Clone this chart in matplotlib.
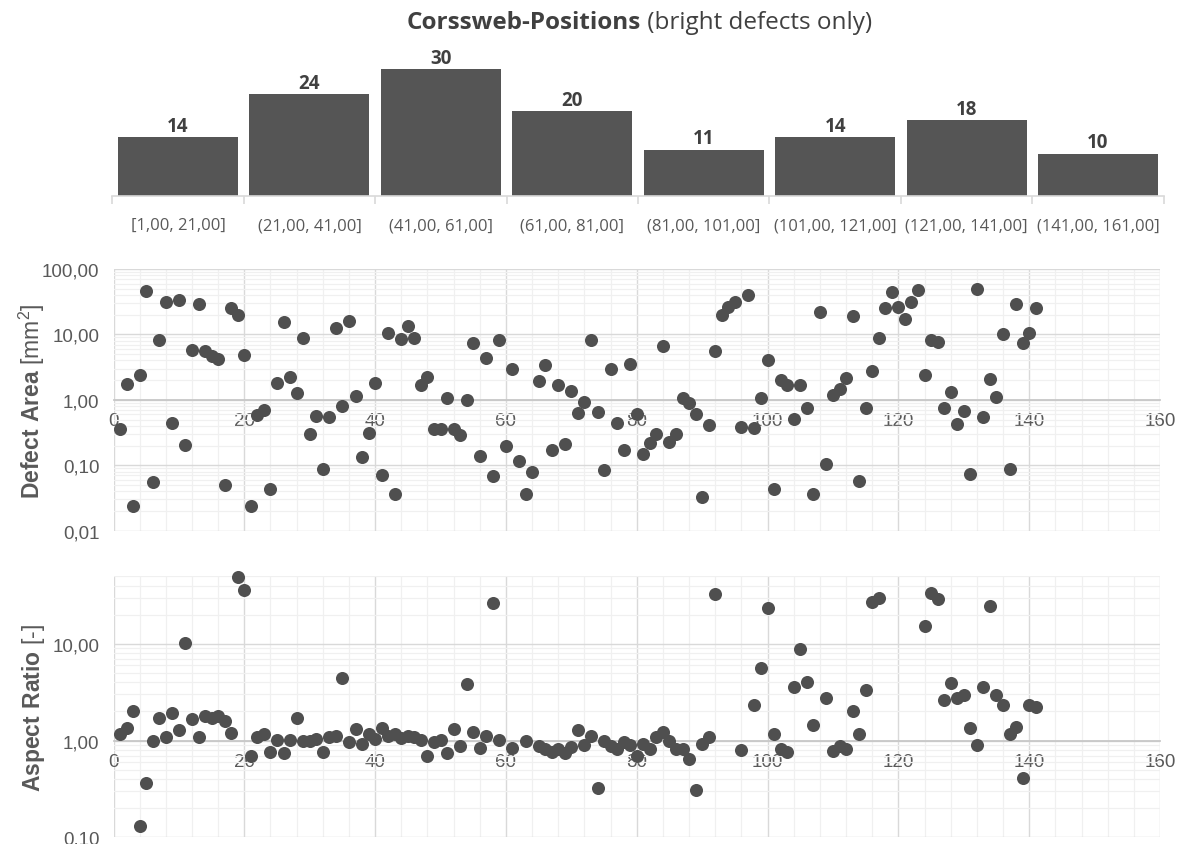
import numpy as np
import matplotlib
matplotlib.use("Agg")
import matplotlib.pyplot as plt
from matplotlib.ticker import FixedLocator, FuncFormatter, MultipleLocator, LogLocator, NullFormatter

# ---------------- data ----------------
bin_labels = ["[1,00, 21,00]", "(21,00, 41,00]", "(41,00, 61,00]", "(61,00, 81,00]",
              "(81,00, 101,00]", "(101,00, 121,00]", "(121,00, 141,00]", "(141,00, 161,00]"]
bin_counts = [14, 24, 30, 20, 11, 14, 18, 10]

defect_area = [
    0.36, 1.76, 0.024, 2.36, 45.5, 0.056, 8.2, 30.9, 0.44, 34,
    0.205, 5.7, 29.4, 5.5, 4.7, 4.2, 0.05, 25, 20, 4.83,
    0.024, 0.59, 0.70, 0.043, 1.8, 15.6, 2.25, 1.28, 8.7, 0.305,
    0.57, 0.089, 0.55, 12.5, 0.81, 16.2, 1.15, 0.136, 0.31, 1.82,
    0.071, 10.5, 0.036, 8.5, 13.6, 8.7, 1.66, 2.22, 0.356, 0.36,
    1.05, 0.356, 0.294, 1.0, 7.4, 0.139, 4.35, 0.069, 8.3, 0.20,
    3.0, 0.115, 0.037, 0.079, 1.95, 3.4, 0.17, 1.67, 0.21, 1.37,
    0.62, 0.94, 8.2, 0.65, 0.086, 3.0, 0.44, 0.17, 3.56, 0.60,
    0.151, 0.22, 0.30, 6.6, 0.23, 0.30, 1.06, 0.91, 0.60, 0.033,
    0.41, 5.5, 20, 25.9, 31.6, 0.39, 40, 0.37, 1.05, 4.05,
    0.043, 2.02, 1.7, 0.51, 1.67, 0.74, 0.037, 22.2, 0.106, 1.18,
    1.46, 2.15, 19.1, 0.058, 0.76, 2.72, 8.8, 25, 45, 26.2,
    17, 31.6, 47.7, 2.36, 8.3, 7.55, 0.74, 1.31, 0.435, 0.68,
    0.074, 48.9, 0.55, 2.1, 1.12, 10, 0.088, 28.8, 7.4, 10.6,
    25.6,
]

nan = float("nan")
aspect_ratio = [
    1.16, 1.35, 2.02, 0.132, 0.366, 0.98, 1.73, 1.08, 1.94, 1.30,
    10.3, 1.69, 1.08, 1.81, 1.73, 1.80, 1.61, 1.21, 49.5, 36.3,
    0.69, 1.08, 1.16, 0.77, 1.02, 0.74, 1.02, 1.71, 0.98, 1.00,
    1.04, 0.77, 1.10, 1.12, 4.43, 0.96, 1.31, 0.92, 1.17, 1.03,
    1.35, 1.12, 1.17, 1.06, 1.12, 1.10, 1.02, 0.69, 0.96, 1.01,
    0.75, 1.33, 0.87, 3.85, 1.22, 0.84, 1.12, 26.7, 1.02, nan,
    0.84, nan, 0.98, nan, 0.88, 0.82, 0.77, 0.82, 0.75, 0.86,
    1.30, 0.91, 1.11, 0.32, 1.00, 0.88, 0.81, 0.97, 0.89, 0.70,
    0.93, 0.82, 1.08, 1.22, 0.98, 0.81, 0.81, 0.65, 0.31, 0.92,
    1.09, 33.0, nan, nan, nan, 0.80, nan, 2.32, 5.6, 23.5,
    1.16, 0.81, 0.77, 3.57, 8.8, 4.05, 1.46, nan, 2.78, 0.78,
    0.87, 0.81, 2.0, 1.17, 3.33, 26.9, 29.6, nan, nan, nan,
    nan, nan, nan, 15.3, 33.3, 29.1, 2.63, 3.9, 2.78, 2.94,
    1.35, 0.90, 3.57, 24.5, 2.96, 2.32, 1.16, 1.39, 0.41, 2.36,
    2.23,
]

defect_index = np.arange(1, len(defect_area) + 1)

# ---------------- style ----------------
plt.rcParams["mathtext.fontset"] = "custom"
plt.rcParams["mathtext.rm"] = "Liberation Sans"
plt.rcParams["mathtext.bf"] = "Liberation Sans:bold"
plt.rcParams["font.family"] = ["Liberation Sans", "DejaVu Sans"]

TXT = "#595959"
DARK = "#404040"
BAR = "#555555"
DOT = "#4f4f4f"
GRID = "#d9d9d9"
MINOR = "#f0f0f0"
HFONT = ["Open Sans", "DejaVu Sans"]

W, H = 1187, 845
fig = plt.figure(figsize=(W / 100, H / 100), dpi=100)


def frac_box(left, top, right, bottom):
    return [left / W, 1 - bottom / H, (right - left) / W, (bottom - top) / H]


# ---------------- histogram ----------------
axh = fig.add_axes(frac_box(112.3, 70, 1163.7, 197.3))
xpos = np.arange(len(bin_counts))
bars = axh.bar(xpos, bin_counts, width=0.913, color=BAR, zorder=2)
axh.set_xlim(-0.5, len(bin_counts) - 0.5)
axh.set_ylim(0, 30)
for b, c in zip(bars, bin_counts):
    axh.annotate(str(c), (b.get_x() + b.get_width() / 2, c), xytext=(0, 1.0),
                 textcoords="offset points", ha="center", va="bottom",
                 fontsize=13.5, fontweight="bold", color=DARK, family=HFONT,
                 annotation_clip=False)
for s in ["top", "right", "left"]:
    axh.spines[s].set_visible(False)
axh.spines["bottom"].set_color(GRID)
axh.spines["bottom"].set_linewidth(1.2)
axh.set_yticks([])
axh.set_xticks(xpos)
axh.set_xticklabels(bin_labels, family=HFONT, fontsize=12, color=TXT)
axh.xaxis.set_minor_locator(FixedLocator(np.arange(-0.5, len(bin_counts), 1.0)))
axh.tick_params(axis="x", which="major", length=0, pad=15)
axh.tick_params(axis="x", which="minor", length=6, color=GRID, width=1.2)

# title: bold part + regular part
t1 = fig.text(0, 1 - 23 / H, "Corssweb-Positions", fontsize=17.5, fontweight="bold",
              color=DARK, family=HFONT, ha="left", va="center")
t2 = fig.text(0, 1 - 23 / H, " (bright defects only)", fontsize=17.5,
              color=DARK, family=HFONT, ha="left", va="center")
fig.canvas.draw()
r = fig.canvas.get_renderer()
w1 = t1.get_window_extent(r).width
w2 = t2.get_window_extent(r).width
cx = 639.0
start = cx - (w1 + w2) / 2
t1.set_x(start / W)
t2.set_x((start + w1) / W)


# ---------------- scatter helpers ----------------
def comma_fmt(v, _pos):
    return f"{v:.2f}".replace(".", ",")


def style_scatter(ax, ymin, ymax, majors, label):
    ax.set_yscale("log")
    ax.set_xlim(0, 160)
    ax.set_ylim(ymin, ymax)
    ax.set_axisbelow(True)
    ax.yaxis.set_major_locator(FixedLocator(majors))
    ax.yaxis.set_major_formatter(FuncFormatter(comma_fmt))
    ax.yaxis.set_minor_locator(LogLocator(base=10, subs=np.arange(2, 10), numticks=20))
    ax.yaxis.set_minor_formatter(NullFormatter())
    ax.xaxis.set_major_locator(MultipleLocator(20))
    ax.xaxis.set_minor_locator(MultipleLocator(4))
    ax.xaxis.set_major_formatter(FuncFormatter(lambda v, p: f"{v:.0f}"))
    ax.grid(which="major", color=GRID, lw=1.0)
    ax.grid(which="minor", color=MINOR, lw=0.9)
    for s in ["top", "right", "left"]:
        ax.spines[s].set_visible(False)
    ax.spines["bottom"].set_position(("data", 1))
    ax.spines["bottom"].set_color("#c8c8c8")
    ax.spines["bottom"].set_linewidth(1.3)
    ax.tick_params(which="both", length=0)
    ax.tick_params(axis="y", labelsize=13.5, labelcolor=TXT, pad=10)
    ax.tick_params(axis="x", labelsize=13.5, labelcolor=TXT, pad=9)
    ax.set_ylabel(label, fontsize=16.5, color=TXT)
    ax.yaxis.set_label_coords(-0.064, 0.5)


ax1 = fig.add_axes(frac_box(113.5, 270, 1160, 531.7))
style_scatter(ax1, 0.01, 100, [0.01, 0.1, 1, 10, 100],
              r"$\mathbf{Defect\ Area}$ [mm$^2$]")
ax1.plot(defect_index, defect_area, "o", ms=9.4, color=DOT, mec="none",
         clip_on=False, zorder=3)

ax2 = fig.add_axes(frac_box(113.5, 577.3, 1160, 838.3))
style_scatter(ax2, 0.1, 50, [0.1, 1, 10],
              r"$\mathbf{Aspect\ Ratio}$ [-]")
ax2.plot(defect_index, aspect_ratio, "o", ms=9.4, color=DOT, mec="none",
         clip_on=False, zorder=3)

fig.savefig("out.png", dpi=100)
